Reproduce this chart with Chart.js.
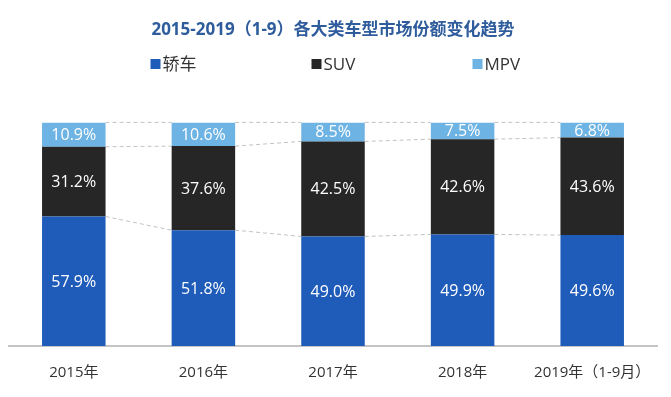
<!DOCTYPE html>
<html>
<head>
<meta charset="utf-8">
<script src="https://cdn.jsdelivr.net/npm/chart.js@4"></script>
<style>
  html, body { margin: 0; padding: 0; background: #fff; }
  #wrap { width: 671px; height: 397px; }
</style>
</head>
<body>
<div id="wrap"><canvas id="share-chart"></canvas></div>
<script>
const years = ['2015年', '2016年', '2017年', '2018年', '2019年（1-9月）'];
const sedan = [57.9, 51.8, 49.0, 49.9, 49.6];
const suv = [31.2, 37.6, 42.5, 42.6, 43.6];
const mpv = [10.9, 10.6, 8.5, 7.5, 6.8];

const sedanColor = '#1f5bb9';
const suvColor = '#262626';
const mpvColor = '#6db3e3';
const fontFamily = '"Open Sans", "Noto Sans CJK SC", sans-serif';

// dashed lines linking the segment tops of neighbouring bars
const connectors = {
    id: 'connectors',
    beforeDatasetsDraw(chart) {
        const ctx = chart.ctx;
        ctx.save();
        ctx.strokeStyle = '#c2c2c2';
        ctx.lineWidth = 1;
        ctx.setLineDash([4, 3]);
        chart.data.datasets.forEach((ds, d) => {
            const bars = chart.getDatasetMeta(d).data;
            for (let i = 0; i < bars.length - 1; i++) {
                const a = bars[i], b = bars[i + 1];
                ctx.beginPath();
                ctx.moveTo(a.x + a.width / 2, a.y);
                ctx.lineTo(b.x - b.width / 2, b.y);
                ctx.stroke();
            }
        });
        ctx.restore();
    }
};

// percent labels in the middle of every segment
const segmentLabels = {
    id: 'segmentLabels',
    afterDatasetsDraw(chart) {
        const ctx = chart.ctx;
        ctx.save();
        ctx.fillStyle = '#ffffff';
        ctx.font = '16px ' + fontFamily;
        ctx.textAlign = 'center';
        ctx.textBaseline = 'middle';
        chart.data.datasets.forEach((ds, d) => {
            chart.getDatasetMeta(d).data.forEach((bar, i) => {
                ctx.fillText(ds.data[i].toFixed(1) + '%', bar.x, (bar.y + bar.base) / 2 + 1);
            });
        });
        ctx.restore();
    }
};

// widely spaced legend row under the title
const wideLegend = {
    id: 'wideLegend',
    afterDraw(chart) {
        const ctx = chart.ctx;
        const y = 64, step = 161;
        const x0 = chart.width / 2 - 185;
        ctx.save();
        ctx.font = '17px ' + fontFamily;
        ctx.textBaseline = 'middle';
        ctx.textAlign = 'left';
        chart.data.datasets.forEach((ds, i) => {
            const x = x0 + i * step;
            ctx.fillStyle = ds.backgroundColor;
            ctx.fillRect(x, y - 5, 10, 10);
            ctx.fillStyle = '#333';
            ctx.fillText(ds.label, x + 12, y + 1);
        });
        ctx.restore();
    }
};

new Chart(document.getElementById('share-chart'), {
    type: 'bar',
    data: {
        labels: years,
        datasets: [
            { label: '轿车', data: sedan, backgroundColor: sedanColor },
            { label: 'SUV', data: suv, backgroundColor: suvColor },
            { label: 'MPV', data: mpv, backgroundColor: mpvColor },
        ]
    },
    options: {
        responsive: true,
        maintainAspectRatio: false,
        animation: false,
        layout: { padding: { left: 9, right: 14, bottom: -3 } },
        datasets: {
            bar: { categoryPercentage: 0.7, barPercentage: 0.7 }
        },
        plugins: {
            title: {
                display: true,
                text: '2015-2019（1-9）各大类车型市场份额变化趋势',
                color: '#2f5c9c',
                font: { size: 17, weight: 'bold', family: fontFamily },
                padding: { top: 20, bottom: 82 }
            },
            legend: { display: false },
            tooltip: { enabled: false }
        },
        scales: {
            x: {
                stacked: true,
                grid: { display: false, drawTicks: false },
                border: { display: true, color: '#c4c4c4', width: 2 },
                ticks: { color: '#333', padding: 18, font: { size: 15, family: fontFamily } }
            },
            y: {
                stacked: true,
                display: false,
                min: 0,
                max: 100
            }
        }
    },
    plugins: [connectors, segmentLabels, wideLegend]
});
</script>
</body>
</html>
